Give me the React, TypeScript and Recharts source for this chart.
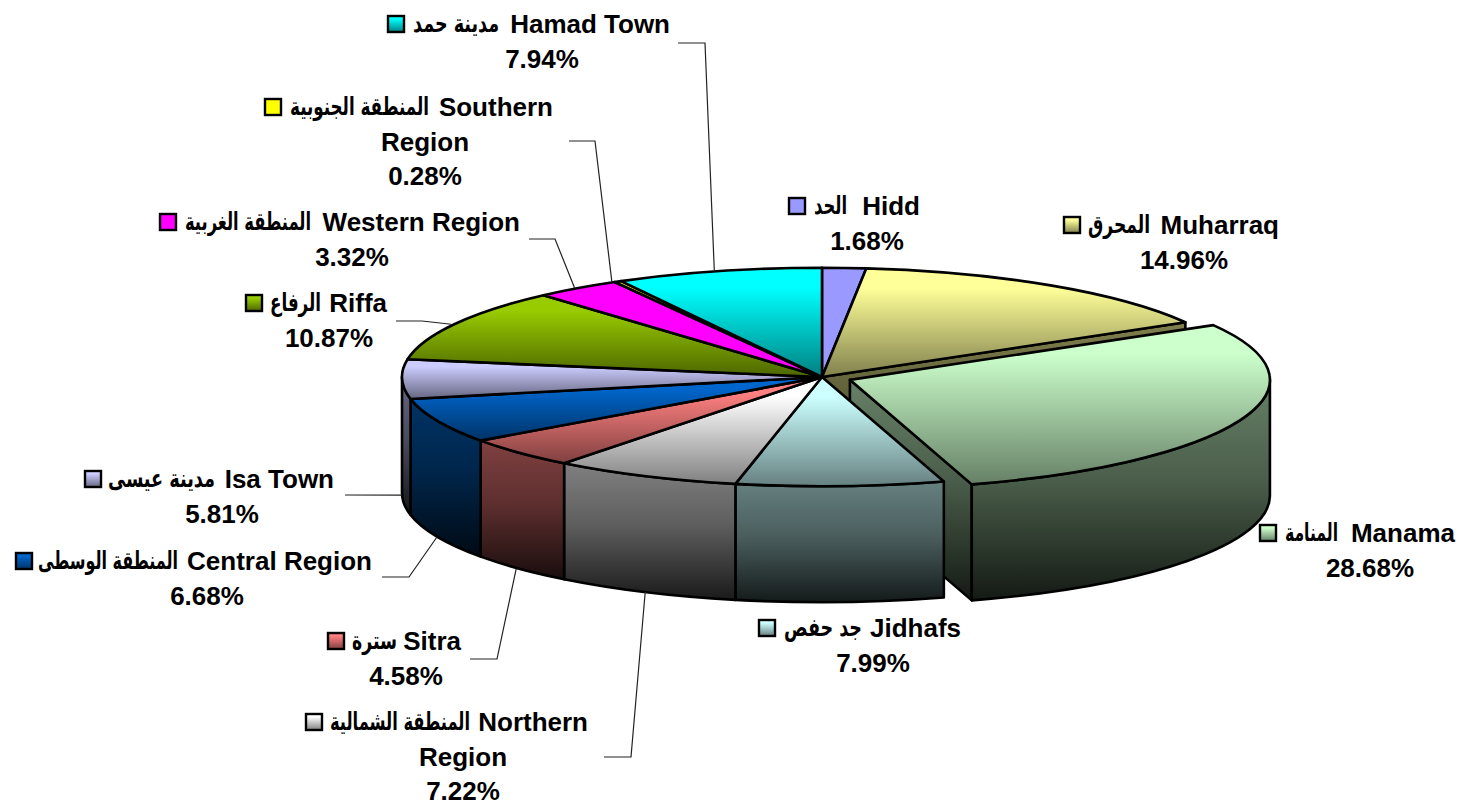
import { Pie, PieChart } from "recharts";

const regions = [
  "Hidd", "Muharraq", "Manama", "Jidhafs", "Northern Region", "Sitra",
  "Central Region", "Isa Town", "Riffa", "Western Region", "Southern Region", "Hamad Town",
];
const arabicNames = [
  "الحد", "المحرق", "المنامة", "جد حفص", "المنطقة الشمالية", "سترة",
  "المنطقة الوسطى", "مدينة عيسى", "الرفاع", "المنطقة الغربية", "المنطقة الجنوبية", "مدينة حمد",
];
const shares = [1.68, 14.96, 28.68, 7.99, 7.22, 4.58, 6.68, 5.81, 10.87, 3.32, 0.28, 7.94];
const sliceColors = [
  "#9999FF", "#FFFF99", "#CCFFCC", "#CCFFFF", "#FFFFFF", "#FF8080",
  "#0066CC", "#CCCCFF", "#99CC00", "#FF00FF", "#FFFF00", "#00FFFF",
];
const flatRegions = ["Hidd", "Western Region", "Southern Region"];
const explodedRegions = ["Manama"];

const chartData = regions.map((name, i) => ({ name, value: shares[i] }));

// hand placed label boxes, same order as regions
const labelBoxes = [
  { swatch: 789, ar: [814, 33], latinEnd: 920, center: 867, base: 215 },
  { swatch: 1064, ar: [1088, 62], latinEnd: 1279, center: 1184, base: 234 },
  { swatch: 1260, ar: [1285, 53], latinEnd: 1455, center: 1370, base: 542 },
  { swatch: 759, ar: [784, 78], latinEnd: 961, center: 873, base: 637 },
  { swatch: 306, ar: [330, 140], latinEnd: 588, center: 463, base: 731, wrap: true, leader: [[604, 757], [631, 757]] },
  { swatch: 328, ar: [352, 45], latinEnd: 461, center: 406, base: 650, leader: [[470, 659], [497, 659]], endNudge: -3 },
  { swatch: 16, ar: [38, 140], latinEnd: 372, center: 207, base: 570, leader: [[382, 577], [409, 577]] },
  { swatch: 85, ar: [108, 107], latinEnd: 334, center: 222, base: 488, leader: [[345, 495]] },
  { swatch: 246, ar: [270, 51], latinEnd: 387, center: 329, base: 312, leader: [[396, 321], [422, 321]], endNudge: -3 },
  { swatch: 160, ar: [185, 126], latinEnd: 520, center: 352, base: 231, leader: [[529, 239], [555, 239]], endNudge: -3 },
  { swatch: 265, ar: [290, 139], latinEnd: 553, center: 425, base: 116, wrap: true, leader: [[569, 141], [595, 141]], endNudge: -6 },
  { swatch: 388, ar: [413, 86], latinEnd: 670, center: 542, base: 33, leader: [[678, 43], [705, 43]], endNudge: -4 },
];

const CX = 822;
const CY = 377;
const RX = 420;
const TILT = 0.26;
const DEPTH = 116;
const EXPLODE = 30;
const LINE_HEIGHT = 34.5;
const ARABIC_SQUEEZE = 0.72;

const rad = (deg: number) => (deg * Math.PI) / 180;
const onRim = (cx: number, cy: number, deg: number) => [
  cx + RX * Math.cos(rad(deg)),
  cy - RX * TILT * Math.sin(rad(deg)),
];
const pt = (p: number[], dy = 0) => `${p[0]} ${p[1] + dy}`;

function shade(hex: string, f: number) {
  const n = parseInt(hex.slice(1), 16);
  const ch = (v: number) => Math.round(v * f);
  return `rgb(${ch((n >> 16) & 255)},${ch((n >> 8) & 255)},${ch(n & 255)})`;
}

function Slice3D(props: any) {
  const { name, startAngle, endAngle } = props;
  const i = regions.indexOf(name);
  let cx = CX;
  let cy = CY;
  if (explodedRegions.includes(name)) {
    const mid = rad((startAngle + endAngle) / 2);
    cx += EXPLODE * Math.cos(mid);
    cy -= EXPLODE * TILT * Math.sin(mid);
  }
  const ry = RX * TILT;
  const a = onRim(cx, cy, startAngle);
  const b = onRim(cx, cy, endAngle);
  const large = startAngle - endAngle > 180 ? 1 : 0;
  const top = `M${cx} ${cy} L${pt(a)} A${RX} ${ry} 0 ${large} 1 ${pt(b)} Z`;

  // outer wall, only the part of the rim in the front half
  const hi = Math.min(startAngle, 0);
  const lo = Math.max(endAngle, -180);
  let wall = null;
  if (hi > lo) {
    const p = onRim(cx, cy, hi);
    const q = onRim(cx, cy, lo);
    wall = `M${pt(p)} A${RX} ${ry} 0 0 1 ${pt(q)} L${pt(q, DEPTH)} A${RX} ${ry} 0 0 0 ${pt(p, DEPTH)} Z`;
  }

  // cut faces only show next to the pulled out slice
  const beside = [regions[i], regions[i + 1]].some((r) => explodedRegions.includes(r));
  const cut = beside && Math.cos(rad(endAngle)) > 0
    ? `M${cx} ${cy} L${pt(b)} L${pt(b, DEPTH)} L${cx} ${cy + DEPTH} Z`
    : null;

  const edge = { stroke: "#000", strokeWidth: 2.6, strokeLinejoin: "round" as const };
  return (
    <g>
      {cut && <path d={cut} fill={`url(#wall-${i})`} {...edge} />}
      {wall && <path d={wall} fill={`url(#wall-${i})`} {...edge} />}
      <path d={top} fill={`url(#top-${i})`} {...edge} />
    </g>
  );
}

function SliceLabel(props: any) {
  const i = regions.indexOf(props.name);
  const box = labelBoxes[i];
  const [first, second] = box.wrap ? regions[i].split(" ") : [regions[i]];
  const rows = [...(second ? [second] : []), `${shares[i].toFixed(2)}%`];
  const font = { fontFamily: "'Liberation Sans', Arial, sans-serif", fontWeight: 700, fontSize: 26, fill: "#000" };
  return (
    <g>
      <rect x={box.swatch} y={box.base - 17} width={16} height={16} fill={`url(#top-${i})`} stroke="#000" strokeWidth={2.4} />
      <text
        transform={`translate(${box.ar[0]} ${box.base - 1}) scale(${ARABIC_SQUEEZE} 1)`}
        textLength={box.ar[1] / ARABIC_SQUEEZE}
        lengthAdjust="spacingAndGlyphs"
        style={{ fontFamily: "'DejaVu Sans', sans-serif", fontWeight: 700, fontSize: 25, fill: "#000" }}
      >
        {arabicNames[i]}
      </text>
      <text x={box.latinEnd} y={box.base} textAnchor="end" style={font}>
        {first}
      </text>
      {rows.map((row, r) => (
        <text key={row} x={box.center} y={box.base + LINE_HEIGHT * (r + 1)} textAnchor="middle" style={font}>
          {row}
        </text>
      ))}
    </g>
  );
}

function LeaderLine(props: any) {
  const i = regions.indexOf(props.name);
  const box = labelBoxes[i];
  if (!box.leader) return <g />;
  const mid = (props.startAngle + props.endAngle) / 2;
  const end = onRim(CX, CY, mid);
  const front = Math.sin(rad(mid)) < 0;
  const pts = [...box.leader, [end[0] + (box.endNudge ?? 0), end[1] + (front ? DEPTH : 0)]];
  return <polyline points={pts.map((p) => p.join(",")).join(" ")} fill="none" stroke="#222" strokeWidth={1.2} />;
}

export default function App() {
  return (
    <div style={{ position: "absolute", left: 0, top: 0, background: "#fff" }}>
      <PieChart width={1459} height={802} margin={{ top: 0, right: 0, bottom: 0, left: 0 }}>
        <defs>
          {sliceColors.map((c, i) => (
            <linearGradient key={`top-${i}`} id={`top-${i}`} x1="0" y1="0" x2="0" y2="1">
              <stop offset="0%" stopColor={c} />
              <stop offset="18%" stopColor={c} />
              <stop offset="100%" stopColor={flatRegions.includes(regions[i]) ? c : shade(c, 0.5)} />
            </linearGradient>
          ))}
          {sliceColors.map((c, i) => (
            <linearGradient key={`wall-${i}`} id={`wall-${i}`} x1="0" y1="0" x2="0" y2="1">
              <stop offset="0%" stopColor={shade(c, 0.5)} />
              <stop offset="45%" stopColor={shade(c, 0.37)} />
              <stop offset="100%" stopColor={shade(c, 0.1)} />
            </linearGradient>
          ))}
        </defs>
        <Pie
          data={chartData}
          dataKey="value"
          nameKey="name"
          cx={CX}
          cy={CY}
          outerRadius={RX}
          startAngle={90}
          endAngle={-270}
          stroke="none"
          shape={Slice3D}
          label={SliceLabel}
          labelLine={LeaderLine}
          isAnimationActive={false}
        />
      </PieChart>
    </div>
  );
}
